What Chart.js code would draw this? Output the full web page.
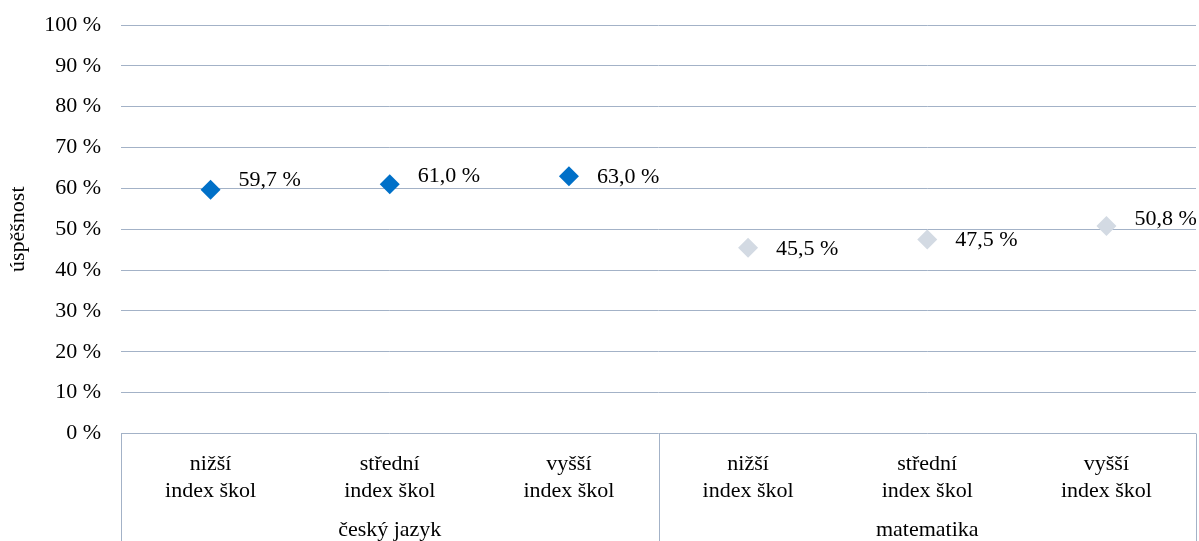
<!DOCTYPE html>
<html>
<head>
<meta charset="utf-8">
<script src="https://cdn.jsdelivr.net/npm/chart.js@4/dist/chart.umd.min.js"></script>
<style>
  html, body { margin: 0; padding: 0; background: #fff; }
  #wrap { width: 1199px; height: 541px; }
</style>
</head>
<body>
<div id="wrap"><canvas id="c" width="1199" height="541"></canvas></div>
<script>
// kategorie na ose x
const categories = [
  ['nižší', 'index škol'], ['střední', 'index škol'], ['vyšší', 'index škol'],
  ['nižší', 'index škol'], ['střední', 'index škol'], ['vyšší', 'index škol']
];
const groups = ['český jazyk', 'matematika'];
// úspěšnost v %
const cjValues = [59.7, 61.0, 63.0, null, null, null];
const matValues = [null, null, null, 45.5, 47.5, 50.8];
const yTicks = [0, 10, 20, 30, 40, 50, 60, 70, 80, 90, 100];

const FONT = '"Liberation Serif", "Times New Roman", serif';
const GRID = '#A3B2C7';
// svislý posun popisků (jen vzhled)
const labelDy = [-9, -8, 1, 2, 1, -7];

const fmt = v => v.toFixed(1).replace('.', ',') + ' %';

// popisky hodnot vpravo od bodu
const valueLabels = {
  id: 'valueLabels',
  afterDatasetsDraw(chart) {
    const ctx = chart.ctx;
    ctx.save();
    ctx.font = '22px ' + FONT;
    ctx.fillStyle = '#000';
    ctx.textAlign = 'left';
    ctx.textBaseline = 'middle';
    chart.data.datasets.forEach((ds, di) => {
      chart.getDatasetMeta(di).data.forEach((pt, i) => {
        const v = ds.data[i];
        if (v == null) return;
        ctx.fillText(fmt(v), pt.x + 28, pt.y + labelDy[i]);
      });
    });
    ctx.restore();
  }
};

// rámeček pod osou x + názvy skupin
const groupAxis = {
  id: 'groupAxis',
  afterDraw(chart) {
    const ctx = chart.ctx;
    const x = chart.scales.x;
    const area = chart.chartArea;
    const n = categories.length;
    const step = (x.right - x.left) / n;
    ctx.save();
    ctx.strokeStyle = GRID;
    ctx.lineWidth = 1;
    const edges = [x.left, x.left + step * 3, x.right];
    edges.forEach(px => {
      const xx = Math.round(px) + 0.5;
      ctx.beginPath();
      ctx.moveTo(xx, area.bottom);
      ctx.lineTo(xx, chart.height);
      ctx.stroke();
    });
    ctx.font = '22px ' + FONT;
    ctx.fillStyle = '#000';
    ctx.textAlign = 'center';
    ctx.textBaseline = 'middle';
    groups.forEach((g, gi) => {
      const cx = (edges[gi] + edges[gi + 1]) / 2;
      ctx.fillText(g, cx, 530);
    });
    ctx.restore();
  }
};

new Chart(document.getElementById('c'), {
  type: 'line',
  data: {
    labels: categories,
    datasets: [
      {
        label: 'český jazyk',
        data: cjValues,
        showLine: false,
        pointStyle: 'rectRot',
        pointRadius: 10,
        pointHoverRadius: 10,
        pointBackgroundColor: '#0070C8',
        pointBorderColor: '#0070C8',
        pointBorderWidth: 0
      },
      {
        label: 'matematika',
        data: matValues,
        showLine: false,
        pointStyle: 'rectRot',
        pointRadius: 10,
        pointHoverRadius: 10,
        pointBackgroundColor: '#D3DAE3',
        pointBorderColor: '#D3DAE3',
        pointBorderWidth: 0
      }
    ]
  },
  options: {
    responsive: false,
    animation: false,
    layout: { autoPadding: false, padding: { top: 25, right: 3, left: 0, bottom: 0 } },
    plugins: {
      legend: { display: false },
      tooltip: { enabled: false }
    },
    scales: {
      x: {
        offset: true,
        grid: { display: false },
        border: { display: false },
        ticks: {
          color: '#000',
          font: { family: FONT, size: 22, lineHeight: 1.22 },
          padding: 9,
          maxRotation: 0,
          autoSkip: false
        },
        afterFit(scale) {
          scale.height = 107.5;
          scale.paddingLeft = 0;
          scale.paddingRight = 0;
        }
      },
      y: {
        min: 0,
        max: 100,
        afterBuildTicks(scale) { scale.ticks = yTicks.map(v => ({ value: v })); },
        grid: { color: GRID, lineWidth: 1, drawTicks: false },
        border: { display: false },
        ticks: {
          color: '#000',
          font: { family: FONT, size: 22 },
          padding: 20,
          callback: v => v + ' %'
        },
        title: {
          display: true,
          text: 'úspěšnost',
          color: '#000',
          font: { family: FONT, size: 22 },
          padding: { top: 5, bottom: 5 }
        },
        afterFit(scale) {
          scale.width = 121;
          scale.paddingTop = 0;
          scale.paddingBottom = 0;
        }
      }
    }
  },
  plugins: [valueLabels, groupAxis]
});
</script>
</body>
</html>
